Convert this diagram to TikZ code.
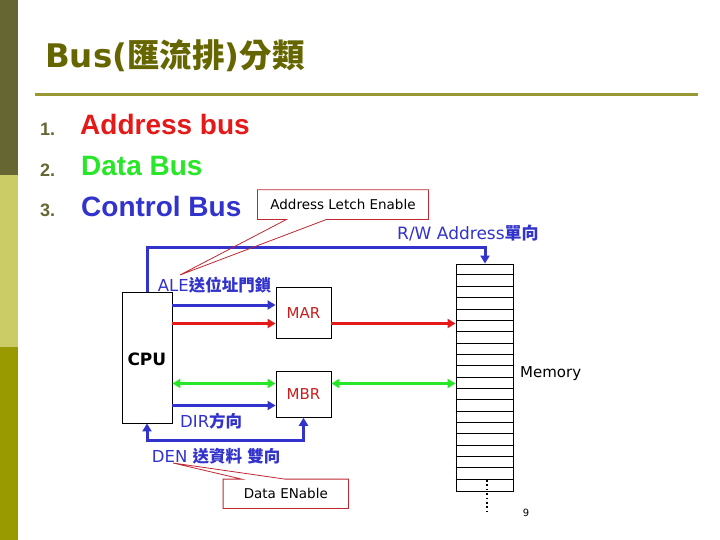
\documentclass[tikz,border=0pt]{standalone}
\usepackage{fontspec}
\setmainfont{DejaVu Sans}
\newfontfamily\arialf{Liberation Sans}
\newfontfamily\cjk{Noto Sans CJK TC}
\usetikzlibrary{arrows.meta,calc}
\definecolor{olivedark}{RGB}{102,102,51}
\definecolor{olivelight}{RGB}{204,204,102}
\definecolor{olivemid}{RGB}{153,153,0}
\definecolor{ruleolive}{RGB}{153,153,51}
\definecolor{titleolive}{RGB}{102,102,0}
\definecolor{busred}{RGB}{230,25,25}
\definecolor{busgreen}{RGB}{40,230,40}
\definecolor{busblue}{RGB}{50,50,204}
\definecolor{noteRed}{RGB}{190,40,50}
\definecolor{marred}{RGB}{200,30,30}
\begin{document}
\begin{tikzpicture}[x=1pt,y=-1pt,
  unitbox/.style={draw=black,line width=0.9pt,inner sep=0pt,fill=white},
  bus/.style={line width=3pt},
  busarrow/.style={bus,-{Triangle[length=8pt,width=9pt]}},
  busboth/.style={bus,{Triangle[length=8pt,width=9pt]}-{Triangle[length=8pt,width=9pt]}},
  lbl/.style={anchor=base west,inner sep=0pt},
  notebox/.style={inner sep=0pt,font=\fontsize{13.5}{16}\selectfont},
  noteline/.style={draw=noteRed,line width=0.8pt,line join=miter},
  numlbl/.style={lbl,font=\arialf\bfseries\fontsize{18}{20}\selectfont,text=olivedark},
  itemlbl/.style={lbl,font=\arialf\bfseries\fontsize{28}{32}\selectfont},
  bluelbl/.style={lbl,text=busblue,font=\fontsize{16.5}{20}\selectfont}
]
\useasboundingbox (0,0) rectangle (720,540);
\fill[white] (0,0) rectangle (720,540);
% left bar
\fill[olivedark] (0,0) rectangle (18,175);
\fill[olivelight] (0,175) rectangle (18,347);
\fill[olivemid] (0,347) rectangle (18,540);
% title
\node[lbl,font=\bfseries\fontsize{32.5}{36}\selectfont,text=titleolive] (title) at (45,68) {Bus({\cjk 匯流排})\cjk 分類};
\coordinate (ruleA) at (35,94.5);
\coordinate (ruleB) at (698,94.5);
\draw[ruleolive,line width=3pt] (ruleA) -- (ruleB);
% list
\node[numlbl] (n1) at (40,136) {1.};
\node[numlbl] (n2) at (40,177) {2.};
\node[numlbl] (n3) at (40,217) {3.};
\node[itemlbl,text=busred] (addr) at (80,135) {Address bus};
\node[itemlbl,text=busgreen] (data) at (81,176) {Data Bus};
\node[itemlbl,text=busblue] (ctrl) at (81,217) {Control Bus};
% boxes
\node[unitbox,minimum width=50pt,minimum height=131pt] (cpu) at (147,357.5) {};
\node[lbl,font=\bfseries\fontsize{17}{20}\selectfont] (cpuLbl) at (127.3,365) {CPU};
\node[unitbox,minimum width=55pt,minimum height=51pt,text=marred,font=\fontsize{15}{17}\selectfont] (mar) at (303.5,312.8) {MAR};
\node[unitbox,minimum width=55pt,minimum height=46pt,text=marred,font=\fontsize{15}{17}\selectfont] (mbr) at (303.5,394.3) {MBR};
\node[unitbox,minimum width=57pt,minimum height=227pt] (mem) at (484.5,377.5) {};
\foreach \i in {1,...,19}
  \draw[line width=0.9pt] ($(mem.north west)+(0,\i*11.35)$) -- ($(mem.north east)+(0,\i*11.35)$);
\coordinate (dotA) at (487,480);
\coordinate (dotB) at (487,515);
\draw[line width=1.6pt,dash pattern=on 1.6pt off 2.8pt] (dotA) -- (dotB);
\node[lbl,font=\fontsize{15}{18}\selectfont] (memLbl) at (520,377) {Memory};
\node[font=\fontsize{10}{12}\selectfont,inner sep=0pt] (pageNo) at (526,513) {9};
% bus levels
\coordinate (yMARblue) at (0,305);
\coordinate (yMARred) at (0,323.5);
\coordinate (yGreen) at (0,383.5);
\coordinate (yDIR) at (0,405.5);
\coordinate (rwCorner) at (485,247);
\coordinate (denLevel) at (0,440);
\draw[busarrow,busblue] (cpu.east |- yMARblue) -- (mar.west |- yMARblue);
\draw[busarrow,busred] (cpu.east |- yMARred) -- (mar.west |- yMARred);
\draw[busarrow,busred] (mar.east |- yMARred) -- (mem.west |- yMARred);
\draw[busboth,busgreen] (cpu.east |- yGreen) -- (mbr.west |- yGreen);
\draw[busboth,busgreen] (mbr.east |- yGreen) -- (mem.west |- yGreen);
\draw[busarrow,busblue] (cpu.east |- yDIR) -- (mbr.west |- yDIR);
\draw[busboth,busblue] (cpu.south) -- (cpu.south |- denLevel) -| (mbr.south);
\draw[busarrow,busblue] (cpu.north) |- (rwCorner) -- (rwCorner |- mem.north);
% labels
\node[lbl,text=busblue,font=\fontsize{17}{20}\selectfont] (rwLbl) at (397,240) {R/W Address{\cjk\bfseries 單向}};
\node[bluelbl] (aleLbl) at (157.7,291.7) {ALE{\cjk\bfseries 送位址門鎖}};
\node[bluelbl] (dirLbl) at (180,427) {DIR{\cjk\bfseries 方向}};
\node[bluelbl] (denLbl) at (151.7,462) {DEN {\cjk\bfseries 送資料} {\cjk\bfseries 雙向}};
% callouts
\node[notebox,minimum width=170.6pt,minimum height=29.3pt] (aleNote) at (343,204.6) {Address Letch Enable};
\coordinate (aleTip) at (180,275);
\draw[noteline] (aleNote.north west) -- (aleNote.north east) -- (aleNote.south east)
  -- ($(aleNote.south west)+(69,0)$) -- (aleTip) -- ($(aleNote.south west)+(29,0)$)
  -- (aleNote.south west) -- cycle;
\node[notebox,minimum width=125pt,minimum height=29pt] (denNote) at (285.8,493.8) {Data ENable};
\coordinate (denTip) at (173,463);
\draw[noteline] (denNote.south west) -- (denNote.north west) -- ($(denNote.north west)+(18.7,0)$)
  -- (denTip) -- ($(denNote.north west)+(61.7,0)$) -- (denNote.north east)
  -- (denNote.south east) -- cycle;
\end{tikzpicture}
\end{document}
